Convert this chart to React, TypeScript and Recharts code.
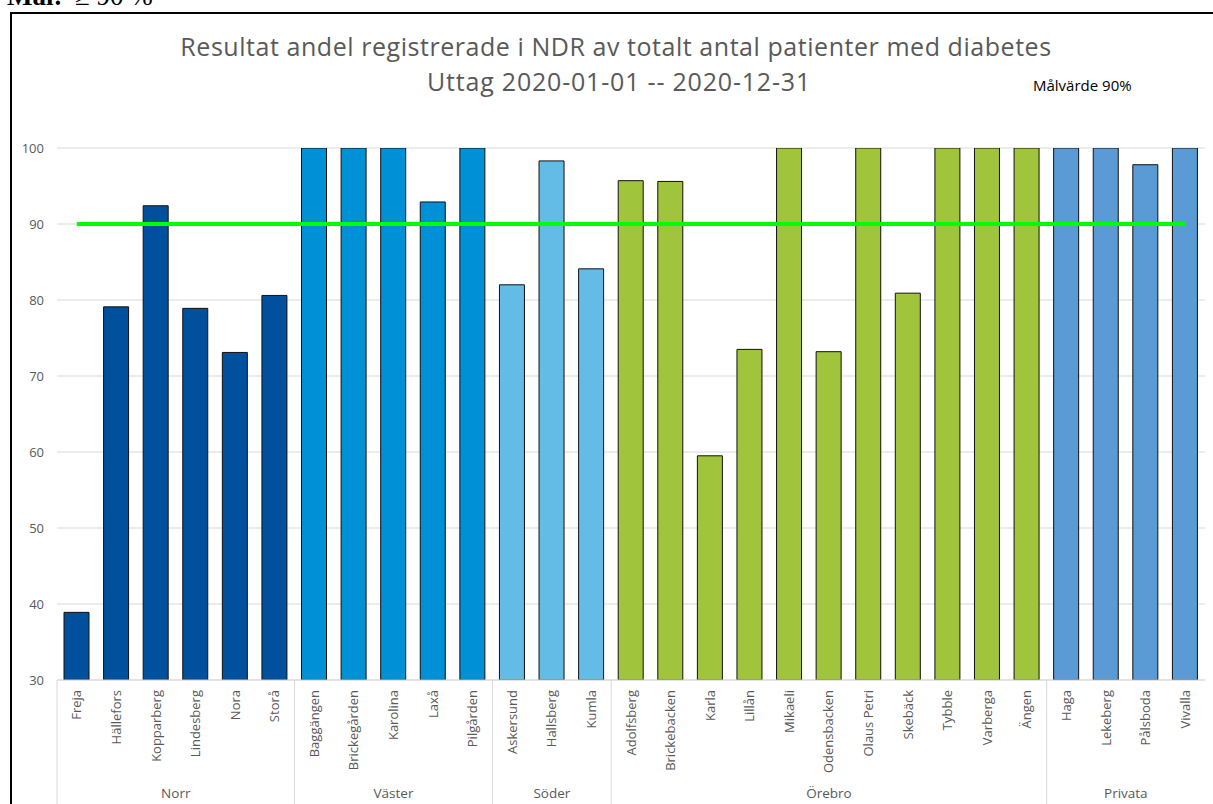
import React from 'react';
import { ComposedChart, Bar, Line, Cell, XAxis, YAxis, CartesianGrid } from 'recharts';

// Vårdcentraler, grouped by område (order matters: regions are consecutive)
const CATEGORIES = [
  'Freja', 'Hällefors', 'Kopparberg', 'Lindesberg', 'Nora', 'Storå',
  'Baggängen', 'Brickegården', 'Karolina', 'Laxå', 'Pilgården',
  'Askersund', 'Hallsberg', 'Kumla',
  'Adolfsberg', 'Brickebacken', 'Karla', 'Lillån', 'Mikaeli', 'Odensbacken',
  'Olaus Petri', 'Skebäck', 'Tybble', 'Varberga', 'Ängen',
  'Haga', 'Lekeberg', 'Pålsboda', 'Vivalla',
];

// Andel registrerade i NDR (%)
const VALUES = [
  38.9, 79.1, 92.4, 78.9, 73.1, 80.6,
  100, 100, 100, 92.9, 100,
  82.0, 98.3, 84.1,
  95.7, 95.6, 59.5, 73.5, 100, 73.2,
  100, 80.9, 100, 100, 100,
  100, 100, 97.8, 100,
];

const REGION_NAMES = ['Norr', 'Väster', 'Söder', 'Örebro', 'Privata'];
const REGION_SIZES = [6, 5, 3, 11, 4];
const REGION_COLORS = ['#00509E', '#0090D5', '#63BCE5', '#A0C43B', '#5B9BD5'];

const TARGET = 90;
const Y_TICKS = [30, 40, 50, 60, 70, 80, 90, 100];

const FONT = '"Open Sans", "Noto Sans", sans-serif';
const TEXT_GRAY = '#595959';
const GRID_GRAY = '#d9d9d9';

const CHART_W = 1213;
const CHART_H = 804;
const MARGIN = { top: 148, right: 8, bottom: 0, left: 10 };
const Y_AXIS_W = 47;
const X_AXIS_H = 124;

// region index for every category, and the first category index of each region
const regionOf: number[] = [];
const regionStart: number[] = [];
REGION_SIZES.forEach((n, r) => {
  regionStart.push(regionOf.length);
  for (let k = 0; k < n; k++) regionOf.push(r);
});

const data = CATEGORIES.map((name, i) => ({
  name,
  value: VALUES[i],
  target: TARGET,
  region: regionOf[i],
}));

const FALLBACK_HALF_BAND =
  (CHART_W - MARGIN.left - MARGIN.right - Y_AXIS_W) / CATEGORIES.length / 2;

function CategoryTick(props: any) {
  const { x, y, payload } = props;
  const i: number = payload.index;
  const half: number = payload.offset || FALLBACK_HALF_BAND;
  const r = regionOf[i];
  const isFirst = regionStart[r] === i;
  const left = x - half;
  return (
    <g>
      <text
        transform={`translate(${x},${y + 10}) rotate(-90)`}
        textAnchor="end"
        dy="0.35em"
        fontSize={13}
        fontFamily={FONT}
        fill={TEXT_GRAY}
      >
        {payload.value}
      </text>
      {isFirst && (
        <line x1={left} x2={left} y1={y} y2={y + X_AXIS_H} stroke={GRID_GRAY} strokeWidth={1} />
      )}
      {isFirst && (
        <text
          x={left + REGION_SIZES[r] * half}
          y={y + 118}
          textAnchor="middle"
          fontSize={13.5}
          fontFamily={FONT}
          fill={TEXT_GRAY}
        >
          {REGION_NAMES[r]}
        </text>
      )}
    </g>
  );
}

export default function App() {
  return (
    <div
      style={{
        position: 'absolute',
        left: 0,
        top: 0,
        width: CHART_W,
        height: CHART_H,
        overflow: 'hidden',
        background: '#fff',
        fontFamily: FONT,
      }}
    >
      {/* chart frame, continuing past the right and bottom edges */}
      <div
        style={{
          position: 'absolute',
          left: 10,
          top: 12,
          width: 1400,
          height: 1000,
          borderLeft: '2px solid #000',
          borderTop: '2px solid #000',
        }}
      />
      <div style={{ position: 'absolute', left: 0, top: 0 }}>
        <ComposedChart width={CHART_W} height={CHART_H} data={data} margin={MARGIN}>
          <CartesianGrid vertical={false} stroke={GRID_GRAY} strokeWidth={1} />
          <XAxis
            dataKey="name"
            interval={0}
            height={X_AXIS_H}
            tickLine={false}
            tickSize={0}
            tickMargin={0}
            axisLine={{ stroke: GRID_GRAY }}
            tick={<CategoryTick />}
          />
          <YAxis
            width={Y_AXIS_W}
            domain={[30, 100]}
            ticks={Y_TICKS}
            allowDataOverflow
            axisLine={false}
            tickLine={false}
            tickSize={0}
            tickMargin={13}
            tick={{ fill: TEXT_GRAY, fontSize: 13, fontFamily: FONT }}
          />
          <Bar dataKey="value" barSize={25} stroke="#111" strokeWidth={1} isAnimationActive={false}>
            {data.map((d) => (
              <Cell key={d.name} fill={REGION_COLORS[d.region]} />
            ))}
          </Bar>
          <Line
            dataKey="target"
            type="linear"
            stroke="#00FF00"
            strokeWidth={4}
            dot={false}
            activeDot={false}
            isAnimationActive={false}
          />
        </ComposedChart>
      </div>
      <svg
        width={CHART_W}
        height={120}
        style={{ position: 'absolute', left: 0, top: 0, pointerEvents: 'none' }}
      >
        <text y={5} fontFamily='"Liberation Serif", serif' fontSize={27} fill="#000">
          <tspan x={7} fontWeight="bold">Mål:</tspan>
          <tspan x={75}>≥ 90 %</tspan>
        </text>
        <text
          x={616}
          y={56}
          textAnchor="middle"
          fontSize={25}
          letterSpacing={0.55}
          fontFamily={FONT}
          fill={TEXT_GRAY}
        >
          Resultat andel registrerade i NDR av totalt antal patienter med diabetes
        </text>
        <text
          x={619}
          y={91}
          textAnchor="middle"
          fontSize={25}
          letterSpacing={0.8}
          fontFamily={FONT}
          fill={TEXT_GRAY}
        >
          Uttag 2020-01-01 -- 2020-12-31
        </text>
        <text x={1033} y={91} fontSize={15} fontFamily={FONT} fill="#000">
          Målvärde 90%
        </text>
      </svg>
    </div>
  );
}
